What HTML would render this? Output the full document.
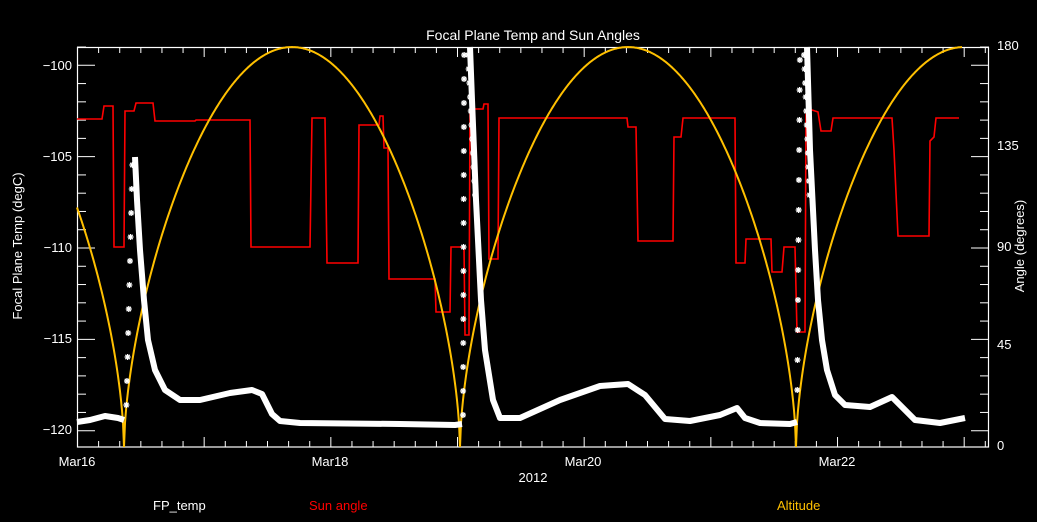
<!DOCTYPE html>
<html><head><meta charset="utf-8"><style>
html,body{margin:0;padding:0;background:#000;}
svg{display:block;font-family:"Liberation Sans",sans-serif;}
</style></head><body>
<svg id="s" width="1037" height="522" viewBox="0 0 1037 522" xmlns="http://www.w3.org/2000/svg">
<rect width="1037" height="522" fill="#000"/>
<g id="ticks" stroke="#fff" stroke-width="1"></g>
<rect x="77.5" y="47.5" width="911" height="399.5" fill="none" stroke="#fff" stroke-width="1.2"/>
<g fill="#fff" font-size="13">
<text x="533" y="40" text-anchor="middle" font-size="14">Focal Plane Temp and Sun Angles</text>
<text x="72" y="70" text-anchor="end">−100</text>
<text x="72" y="161" text-anchor="end">−105</text>
<text x="72" y="252" text-anchor="end">−110</text>
<text x="72" y="343" text-anchor="end">−115</text>
<text x="72" y="434" text-anchor="end">−120</text>
<text x="997" y="50">180</text>
<text x="997" y="150">135</text>
<text x="997" y="251">90</text>
<text x="997" y="349">45</text>
<text x="997" y="450">0</text>
<text x="77" y="466" text-anchor="middle">Mar16</text>
<text x="330" y="466" text-anchor="middle">Mar18</text>
<text x="583" y="466" text-anchor="middle">Mar20</text>
<text x="837" y="466" text-anchor="middle">Mar22</text>
<text x="533" y="482" text-anchor="middle">2012</text>
<text x="22" y="246" text-anchor="middle" transform="rotate(-90 22 246)">Focal Plane Temp (degC)</text>
<text x="1024" y="246" text-anchor="middle" transform="rotate(-90 1024 246)">Angle (degrees)</text>
<text x="153" y="510">FP_temp</text>
<text x="309" y="510" fill="#ff0000">Sun angle</text>
<text x="777" y="510" fill="#ffc000">Altitude</text>
</g>
<polyline fill="none" stroke="#ff0000" stroke-width="1.6" points="77,119 102,119 104,106 113,106 114,247 124,247 125,111 134,111 136,103 153,103 155,121 195,121 196,120 250,120 251,247 310,247 312,118 325,118 327,263 358,263 359,125 379,125 380,116 383,116 384,148 388,148 389,279 435,279 436,312 450,312 451,247 464,247 465,335 469,335 470,109 483,109 484,104 488,104 489,259 498,259 499,118 627,118 628,127 636,127 638,241 673,241 674,137 681,137 683,118 735,118 736,263 745,263 746,239 771,239 772,272 782,272 784,247 795,247 797,332 805,332 806,114 812,110 818,112 821,131 831,131 833,118 892,118 894,150 898,236 929,236 930,141 934,137 936,118 959,118"/>
<polyline id="alt" fill="none" stroke="#ffc000" stroke-width="2"/>
<g fill="none" stroke="#fff" stroke-width="6" stroke-linejoin="round">
<polyline points="77,422 90,420 105,416 118,418 124,420"/>
<polyline points="135,157 137,200 140,250 144,300 148,340 155,370 165,390 180,400 200,400 230,393 252,390 262,394 272,414 280,421 300,423 400,424 455,425 462,424"/>
<polyline points="470,47 472,100 476,200 481,300 485,350 493,400 500,418 520,418 560,400 600,386 628,384 645,395 665,419 690,421 720,415 737,408 745,418 760,423 790,424 797,422"/>
<polyline points="807,47 810,150 815,250 818,300 822,340 827,370 835,395 845,405 870,407 892,397 905,410 915,420 940,423 965,418"/>
</g>
<g id="stars" stroke="#fff" stroke-width="1.3"></g>
</svg>
<script>
var NS="http://www.w3.org/2000/svg";
var t=document.getElementById("ticks");
function ln(g,x1,y1,x2,y2){var l=document.createElementNS(NS,"line");l.setAttribute("x1",x1);l.setAttribute("y1",y1);l.setAttribute("x2",x2);l.setAttribute("y2",y2);g.appendChild(l);}
for(var i=0;i<=43;i++){var x=77.5+i*126.67/6;if(x>989)break;var L=(i%6==0)?10:6;ln(t,x,447,x,447-L);ln(t,x,47,x,47+L);}
for(var v=-99;v>=-121;v--){var y=65.3+(-100-v)*18.27;if(y<47||y>447)continue;var L=(v%5==0)?18:9;ln(t,77,y,77+L,y);ln(t,989,y,989-L,y);}
var p=[];for(var x=77;x<=962;x+=1){var tt=((x-124)%336+336)%336/336;var a=180*Math.pow(Math.sin(Math.PI*tt),0.6);p.push(x+","+(447-a*2.222).toFixed(1));}
document.getElementById("alt").setAttribute("points",p.join(" "));
var st=document.getElementById("stars");
function star(x,y){var r=3;ln(st,x-r,y,x+r,y);ln(st,x,y-r,x,y+r);ln(st,x-2.2,y-2.2,x+2.2,y+2.2);ln(st,x-2.2,y+2.2,x+2.2,y-2.2);}
for(var y=165;y<420;y+=24){star(126+(420-y)*0.025,y);}
for(var y=55;y<420;y+=24){star(463+(420-y)*0.003,y);}
for(var y=55;y<200;y+=14){star(468+(y-55)*0.05,y);}
for(var y=60;y<420;y+=30){star(797+(420-y)*0.008,y);}
for(var y=55;y<200;y+=14){star(804+(y-55)*0.04,y);}
</script>
</body></html>
